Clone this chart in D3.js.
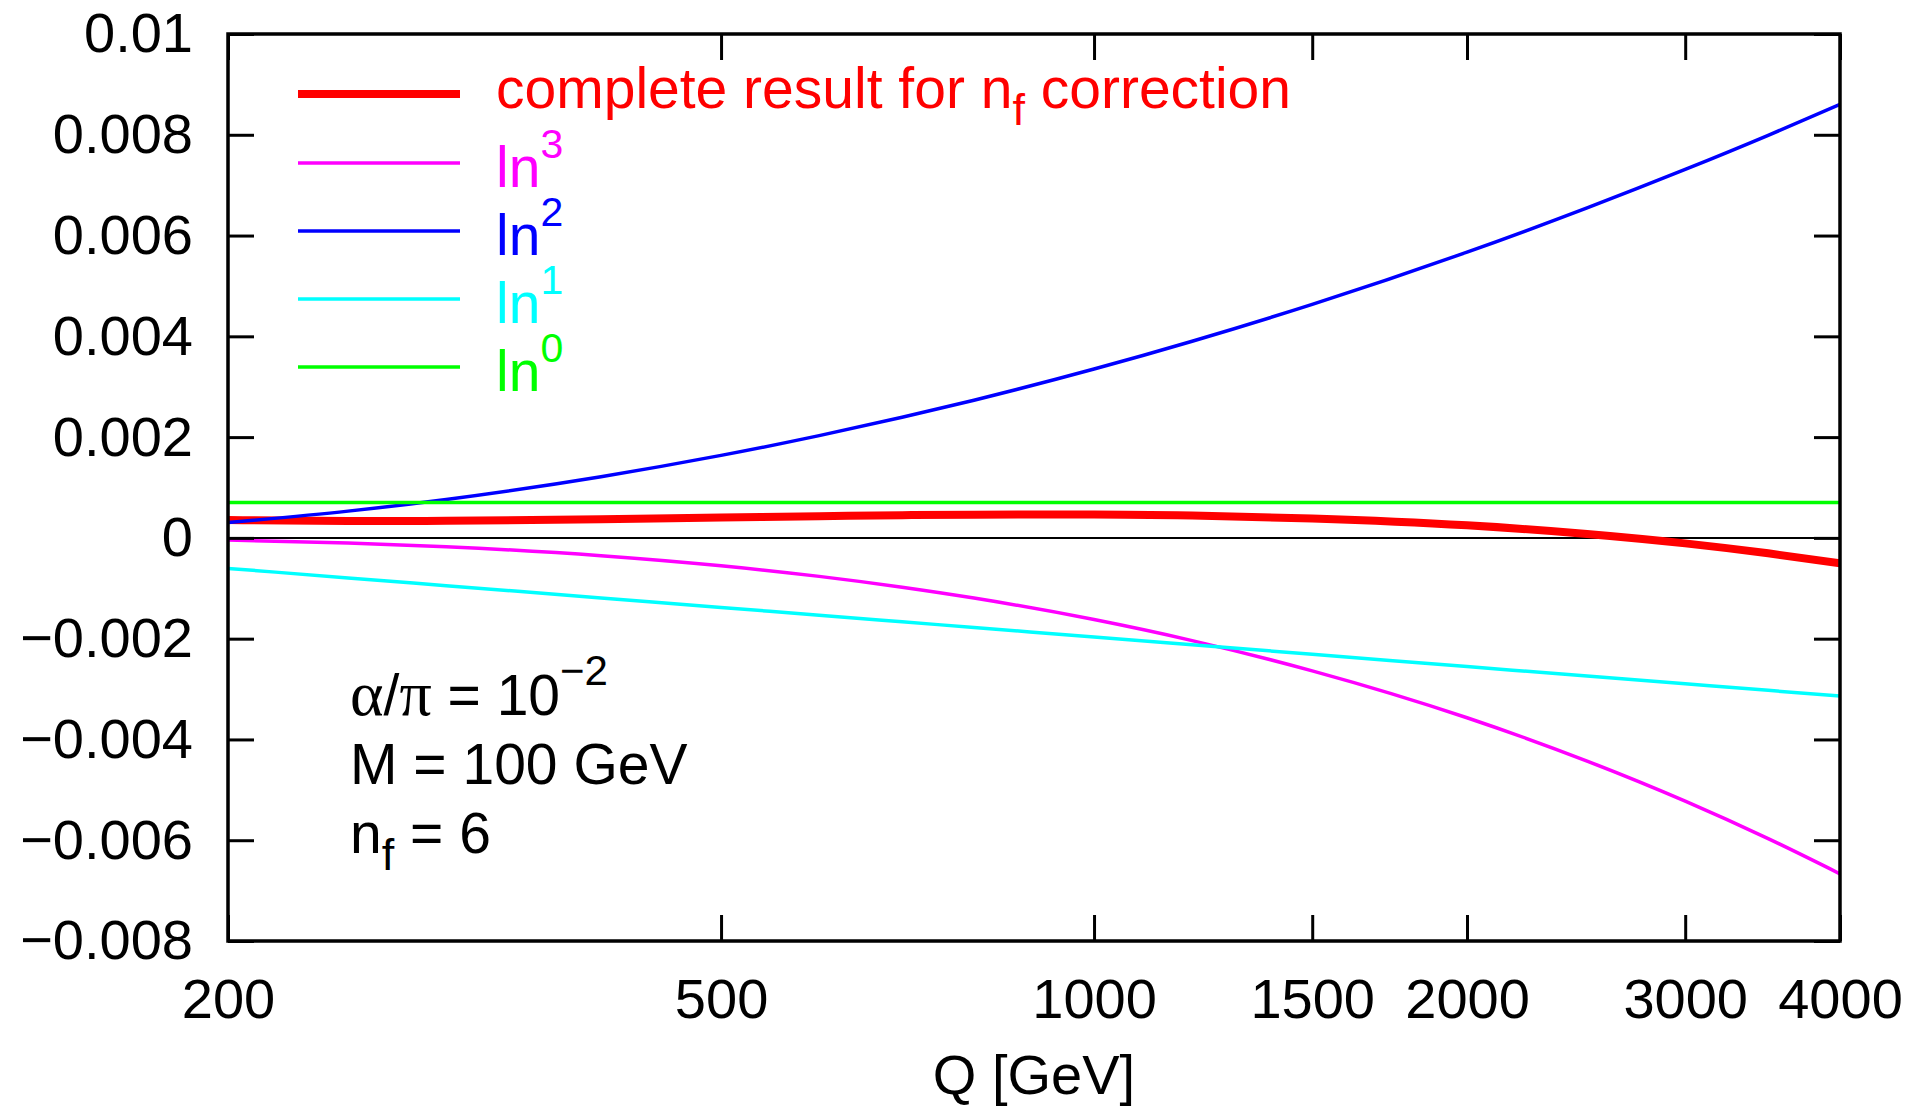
<!DOCTYPE html>
<html>
<head>
<meta charset="utf-8">
<script src="https://cdn.jsdelivr.net/npm/d3@7"></script>
<style>
  body { margin: 0; background: #fff; }
  text { font-family: "Liberation Sans", Arial, sans-serif; }
</style>
</head>
<body>
<script>
var w = 1910;
var h = 1116;

// Q values [GeV]
var qValues = [200, 250, 300, 400, 500, 600, 700, 800, 1000, 1200, 1500, 2000, 2500, 3000, 3500, 4000];

// series
var complete = [0.000355, 0.000335, 0.000339, 0.000369, 0.000403, 0.000430, 0.000450, 0.000461, 0.000464, 0.000444, 0.000386, 0.000249, 0.000078, -0.000109, -0.000306, -0.000505];
var ln3 = [-0.000044, -0.000102, -0.000176, -0.000354, -0.000554, -0.000764, -0.000979, -0.001194, -0.001621, -0.002038, -0.002638, -0.003569, -0.004429, -0.005224, -0.005968, -0.006667];
var ln2 = [0.000304, 0.000531, 0.000763, 0.001215, 0.001637, 0.002029, 0.002394, 0.002733, 0.003351, 0.003903, 0.004634, 0.005671, 0.006549, 0.007311, 0.007988, 0.008602];
var ln1 = [-0.000605, -0.000794, -0.000948, -0.001192, -0.001380, -0.001535, -0.001665, -0.001778, -0.001966, -0.002121, -0.002310, -0.002553, -0.002742, -0.002896, -0.003026, -0.003140];
var ln0 = [0.0007, 0.0007, 0.0007, 0.0007, 0.0007, 0.0007, 0.0007, 0.0007, 0.0007, 0.0007, 0.0007, 0.0007, 0.0007, 0.0007, 0.0007, 0.0007];

var xTicks = [200, 500, 1000, 1500, 2000, 3000, 4000];
var yTicks = [0.01, 0.008, 0.006, 0.004, 0.002, 0, -0.002, -0.004, -0.006, -0.008];
var yTickLabels = ["0.01", "0.008", "0.006", "0.004", "0.002", "0", "\u22120.002", "\u22120.004", "\u22120.006", "\u22120.008"];

var series = [
    {name: "complete", values: complete, color: "#ff0000", width: 8},
    {name: "ln3", values: ln3, color: "#ff00ff", width: 3.5},
    {name: "ln2", values: ln2, color: "#0000ff", width: 3.5},
    {name: "ln1", values: ln1, color: "#00ffff", width: 3.5},
    {name: "ln0", values: ln0, color: "#00ff00", width: 3.5}
];

// plot box
var pL = 228, pR = 1840, pT = 34, pB = 941;
var fs = 56;
var serif = "'Liberation Serif', 'DejaVu Serif', serif";

var x = d3.scaleLog().domain([200, 4000]).range([pL, pR]);
var y = d3.scaleLinear().domain([-0.008, 0.01]).range([pB, pT]);

var svg = d3.select("body")
    .append("svg")
    .attr("width", w)
    .attr("height", h);

svg.append("defs").append("clipPath")
    .attr("id", "plot")
    .append("rect")
    .attr("x", pL).attr("y", pT)
    .attr("width", pR - pL).attr("height", pB - pT);

// zero line
svg.append("line")
    .attr("x1", pL).attr("x2", pR)
    .attr("y1", y(0)).attr("y2", y(0))
    .attr("stroke", "#000")
    .attr("stroke-width", 2);

// curves
var line = d3.line()
    .x(function (d) { return x(d[0]); })
    .y(function (d) { return y(d[1]); })
    .curve(d3.curveMonotoneX);

svg.append("g")
    .attr("clip-path", "url(#plot)")
    .selectAll("path")
    .data(series)
    .enter()
    .append("path")
    .attr("d", function (s) {
        return line(qValues.map(function (q, i) { return [q, s.values[i]]; }));
    })
    .attr("fill", "none")
    .attr("stroke", function (s) { return s.color; })
    .attr("stroke-width", function (s) { return s.width; })
    .attr("stroke-linejoin", "round");

// axes, ticks pointing inward
function styleAxis(g) {
    g.select(".domain").remove();
    g.selectAll(".tick line").attr("stroke", "#000").attr("stroke-width", 3);
    g.selectAll(".tick text")
        .attr("fill", "#000")
        .style("font-family", "'Liberation Sans', Arial, sans-serif")
        .style("font-size", fs + "px");
}

svg.append("g")
    .attr("transform", "translate(0," + pB + ")")
    .call(d3.axisBottom(x).tickValues(xTicks).tickSize(-26).tickPadding(37)
        .tickFormat(function (d) { return String(d); }))
    .call(styleAxis);

svg.append("g")
    .attr("transform", "translate(0," + pT + ")")
    .call(d3.axisTop(x).tickValues(xTicks).tickSize(-26).tickFormat(""))
    .call(styleAxis);

svg.append("g")
    .attr("transform", "translate(" + pL + ",0)")
    .call(d3.axisLeft(y).tickValues(yTicks).tickSize(-26).tickPadding(35)
        .tickFormat(function (d, i) { return yTickLabels[i]; }))
    .call(styleAxis);

svg.append("g")
    .attr("transform", "translate(" + pR + ",0)")
    .call(d3.axisRight(y).tickValues(yTicks).tickSize(-26).tickFormat(""))
    .call(styleAxis);

// frame
svg.append("rect")
    .attr("x", pL).attr("y", pT)
    .attr("width", pR - pL).attr("height", pB - pT)
    .attr("fill", "none")
    .attr("stroke", "#000")
    .attr("stroke-width", 3.5);

// x axis title
svg.append("text")
    .attr("x", (pL + pR) / 2)
    .attr("y", 1094)
    .attr("text-anchor", "middle")
    .attr("font-size", fs)
    .text("Q [GeV]");

// legend
var legendY = [94, 163, 231, 299, 367];
var lg = svg.append("g");
series.forEach(function (s, i) {
    lg.append("line")
        .attr("x1", 298).attr("x2", 460)
        .attr("y1", legendY[i]).attr("y2", legendY[i])
        .attr("stroke", s.color)
        .attr("stroke-width", s.width);
});

var t0 = lg.append("text")
    .attr("x", 496).attr("y", legendY[0] + 14)
    .attr("font-size", 57)
    .attr("fill", "#ff0000");
t0.append("tspan").text("complete result for n");
t0.append("tspan").attr("font-size", 45).attr("dy", 17).text("f");
t0.append("tspan").attr("dy", -17).text(" correction");

var powers = ["3", "2", "1", "0"];
powers.forEach(function (p, i) {
    var t = lg.append("text")
        .attr("x", 496).attr("y", legendY[i + 1] + 24)
        .attr("font-size", 57)
        .attr("fill", series[i + 1].color);
    t.append("tspan").text("ln");
    t.append("tspan").attr("font-size", 41).attr("dy", -29).text(p);
});

// parameter box
var a1 = svg.append("text").attr("x", 350).attr("y", 715).attr("font-size", 57);
a1.append("tspan").style("font-family", serif).attr("font-size", 64).text("\u03b1");
a1.append("tspan").text("/");
a1.append("tspan").style("font-family", serif).attr("font-size", 64).text("\u03c0");
a1.append("tspan").text(" = 10");
a1.append("tspan").attr("font-size", 42).attr("dy", -30).text("\u22122");

svg.append("text").attr("x", 350).attr("y", 784).attr("font-size", 57).text("M = 100 GeV");

var a3 = svg.append("text").attr("x", 350).attr("y", 853).attr("font-size", 57);
a3.append("tspan").text("n");
a3.append("tspan").attr("font-size", 45).attr("dy", 17).text("f");
a3.append("tspan").attr("dy", -17).text(" = 6");
</script>
</body>
</html>
